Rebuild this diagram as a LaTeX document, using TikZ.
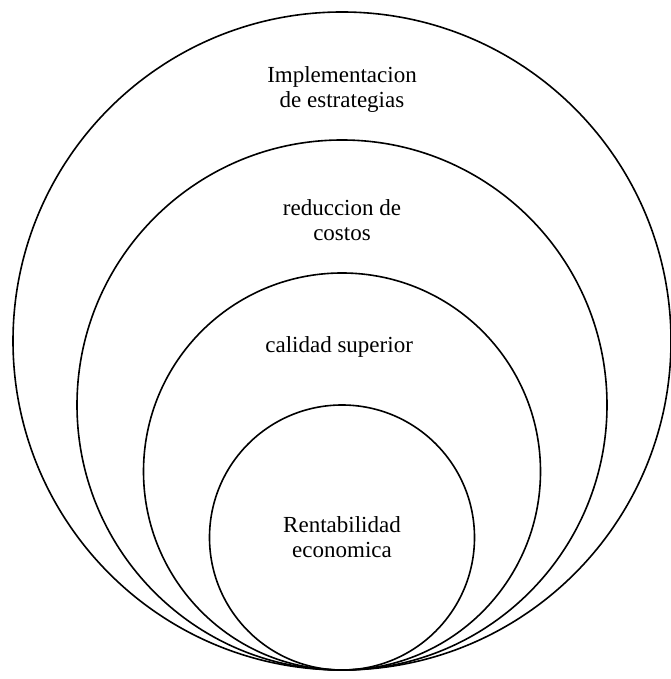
\documentclass[tikz,border=0pt]{standalone}
\usepackage{fontspec}
\setmainfont{Liberation Serif}
\usetikzlibrary{positioning}
\tikzstyle{ring} = [ draw, circle, line width = 1.6pt, inner sep = 0pt, outer sep = 0pt ]
\tikzstyle{caption} = [ align = center, inner sep = 0pt, font = \fontsize{23}{25}\selectfont ]

\begin{document}
\begin{tikzpicture}[x=1pt, y=1pt]
	\useasboundingbox (0, 0) rectangle (670, 679);

	\node[ring, minimum size = 658pt] (estrategias) at ( 342, 338 ) {};
	\node[ring, minimum size = 530pt] (costos) at ( 342, 274 ) {};
	\node[ring, minimum size = 397pt] (calidad) at ( 342, 207.5 ) {};
	\node[ring, minimum size = 265pt] (rentabilidad) at ( 342, 141.5 ) {};

	\node[caption] (tEstrategias) at ( 342, 589 ) { Implementacion\\de estrategias };
	\node[caption] (tCostos) at ( 342, 459 ) { reduccion de\\costos };
	\node[caption] (tCalidad) at ( 342, 332 ) { calidad superior };
	\node[caption] (tRentabilidad) at ( 342, 142 ) { Rentabilidad\\economica };
\end{tikzpicture}
\end{document}
